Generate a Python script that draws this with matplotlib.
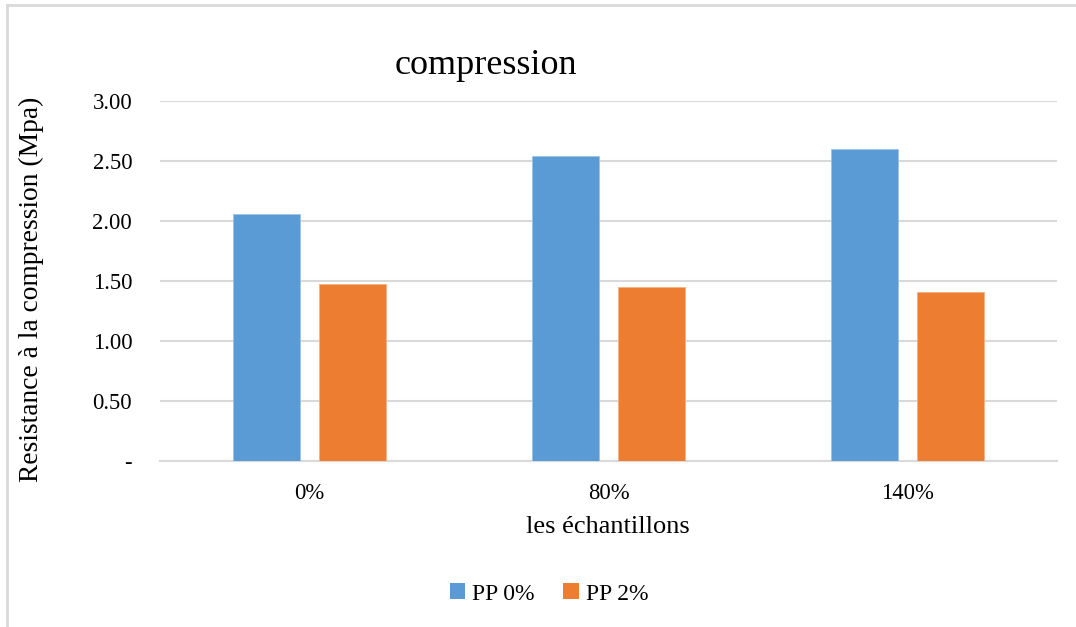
import matplotlib
matplotlib.use("Agg")
import matplotlib.pyplot as plt
import numpy as np
from matplotlib.lines import Line2D
from matplotlib.patches import Patch

# Compressive strength by sample group
categories = ["0%", "80%", "140%"]
series_names = ["PP 0%", "PP 2%"]
pp0 = [2.06, 2.54, 2.60]
pp2 = [1.47, 1.45, 1.41]
y_ticks = [0.0, 0.5, 1.0, 1.5, 2.0, 2.5, 3.0]
y_tick_labels = ["-", "0.50", "1.00", "1.50", "2.00", "2.50", "3.00"]

BLUE = "#5B9BD5"
ORANGE = "#ED7D31"
GRID = "#D9D9D9"
FONT = "Liberation Serif"

W, H = 1076, 627
fig = plt.figure(figsize=(W / 100, H / 100), dpi=100)
plt.rcParams["font.family"] = FONT

# axes placement in pixels
left, right, top, bottom = 160, 1057, 100.7, 460.7
ax = fig.add_axes([left / W, 1 - bottom / H, (right - left) / W, (bottom - top) / H])

x = np.arange(len(categories))
bw = 0.223
gap = 0.0625
off = (bw + gap) / 2
ax.bar(x - off, pp0, width=bw, color=BLUE, edgecolor="#9DC3E6", linewidth=0.6, zorder=3)
ax.bar(x + off, pp2, width=bw, color=ORANGE, edgecolor="#F4B183", linewidth=0.6, zorder=3)

ax.set_xlim(-0.5, len(categories) - 0.5)
ax.set_ylim(0, 3.0)
ax.set_yticks(y_ticks)
ax.set_yticklabels(y_tick_labels)
ax.set_xticks(x)
ax.set_xticklabels(categories)
ax.tick_params(axis="both", length=0, labelsize=16.3, colors="black")
ax.tick_params(axis="y", pad=20)
ax.tick_params(axis="x", pad=16)
ax.yaxis.grid(True, color=GRID, linewidth=1.5, zorder=0)
ax.set_axisbelow(True)
for s in ["top", "right", "left"]:
    ax.spines[s].set_visible(False)
ax.spines["bottom"].set_color(GRID)
ax.spines["bottom"].set_linewidth(1.5)

# titles and axis labels
fig.text(486 / W, 1 - 66 / H, "compression", ha="center", va="center", fontsize=26, family=FONT)
fig.text(31 / W, 1 - 289 / H, "Resistance à la compression (Mpa)", ha="center", va="center",
         rotation=90, fontsize=19.8, family=FONT)
fig.text(608 / W, 1 - 527 / H, "les échantillons", ha="center", va="center", fontsize=19, family=FONT)

# legend
handles = [Patch(facecolor=BLUE, edgecolor="none"), Patch(facecolor=ORANGE, edgecolor="none")]
fig.legend(handles, series_names, loc="center", bbox_to_anchor=(549 / W, 1 - 594 / H), ncol=2,
           frameon=False, fontsize=17, handlelength=0.65, handleheight=0.65, handletextpad=0.3,
           columnspacing=1.2)

# chart-area frame (left and top edges)
fig.add_artist(Line2D([7 / W, 7 / W], [0, 1 - 5 / H], color=GRID, linewidth=2, transform=fig.transFigure))
fig.add_artist(Line2D([7 / W, 1], [1 - 5 / H, 1 - 5 / H], color=GRID, linewidth=2, transform=fig.transFigure))

fig.savefig("out.png", dpi=100, facecolor="white")
